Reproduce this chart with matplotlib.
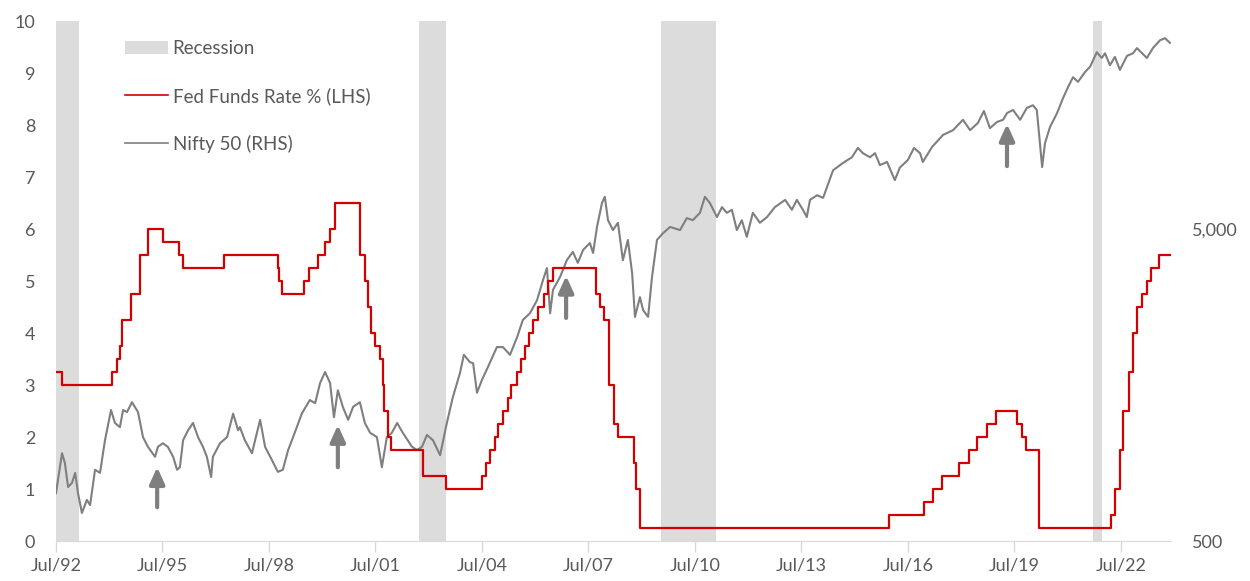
import matplotlib
matplotlib.use("Agg")
import matplotlib.pyplot as plt
from matplotlib.patches import Patch
from matplotlib.lines import Line2D
from matplotlib.ticker import FixedLocator, FuncFormatter

plt.rcParams['font.family'] = ['Lato', 'DejaVu Sans']

# Fed funds target (upper bound), value from each change date on (decimal years)
fed_t = [1992.50, 1992.68, 1994.09, 1994.22, 1994.29, 1994.37, 1994.62, 1994.87,
         1995.08, 1995.51, 1995.96, 1996.08, 1997.23, 1998.74, 1998.79, 1998.88,
         1999.49, 1999.64, 1999.87, 2000.09, 2000.22, 2000.37, 2001.05, 2001.21,
         2001.29, 2001.37, 2001.49, 2001.64, 2001.71, 2001.75, 2001.85, 2001.94,
         2002.85, 2003.48, 2004.49, 2004.61, 2004.72, 2004.86, 2004.95, 2005.09,
         2005.22, 2005.33, 2005.49, 2005.60, 2005.72, 2005.83, 2005.95, 2006.08,
         2006.24, 2006.36, 2006.49, 2007.71, 2007.83, 2007.94, 2008.07, 2008.21,
         2008.33, 2008.77, 2008.83, 2008.96, 2015.96, 2016.95, 2017.20, 2017.45,
         2017.95, 2018.22, 2018.45, 2018.74, 2018.97, 2019.58, 2019.72, 2019.83,
         2020.19, 2022.21, 2022.34, 2022.46, 2022.57, 2022.72, 2022.84, 2022.95,
         2023.09, 2023.22, 2023.34, 2023.57, 2023.91]
fed_rate = [3.25, 3.00, 3.25, 3.50, 3.75, 4.25, 4.75, 5.50,
            6.00, 5.75, 5.50, 5.25, 5.50, 5.25, 5.00, 4.75,
            5.00, 5.25, 5.50, 5.75, 6.00, 6.50, 5.50, 5.00,
            4.50, 4.00, 3.75, 3.50, 3.00, 2.50, 2.00, 1.75,
            1.25, 1.00, 1.25, 1.50, 1.75, 2.00, 2.25, 2.50,
            2.75, 3.00, 3.25, 3.50, 3.75, 4.00, 4.25, 4.50,
            4.75, 5.00, 5.25, 4.75, 4.50, 4.25, 3.00, 2.25,
            2.00, 1.50, 1.00, 0.25, 0.50, 0.75, 1.00, 1.25,
            1.50, 1.75, 2.00, 2.25, 2.50, 2.25, 2.00, 1.75,
            0.25, 0.50, 1.00, 1.75, 2.50, 3.25, 4.00, 4.50,
            4.75, 5.00, 5.25, 5.50, 5.50]

# Nifty 50 index level
nifty_t = [1992.50, 1992.67, 1992.75, 1992.84, 1992.95, 1993.04, 1993.12, 1993.23,
           1993.37, 1993.46, 1993.60, 1993.74, 1993.88, 1994.05, 1994.16, 1994.30,
           1994.39, 1994.50, 1994.64, 1994.81, 1994.95, 1995.09, 1995.29, 1995.37,
           1995.51, 1995.65, 1995.80, 1995.91, 1995.99, 1996.08, 1996.22, 1996.36,
           1996.50, 1996.64, 1996.75, 1996.87, 1996.92, 1997.12, 1997.32, 1997.49,
           1997.63, 1997.68, 1997.82, 1998.02, 1998.25, 1998.39, 1998.58, 1998.75,
           1998.89, 1999.04, 1999.18, 1999.43, 1999.65, 1999.80, 1999.94, 2000.08,
           2000.22, 2000.33, 2000.44, 2000.58, 2000.73, 2000.87, 2001.06, 2001.20,
           2001.35, 2001.54, 2001.68, 2001.82, 2001.96, 2002.11, 2002.27, 2002.53,
           2002.67, 2002.81, 2002.95, 2003.12, 2003.32, 2003.51, 2003.68, 2003.88,
           2003.99, 2004.16, 2004.25, 2004.36, 2004.50, 2004.67, 2004.92, 2005.09,
           2005.29, 2005.49, 2005.65, 2005.85, 2006.05, 2006.22, 2006.33, 2006.42,
           2006.50, 2006.70, 2006.89, 2007.06, 2007.20, 2007.35, 2007.54, 2007.63,
           2007.74, 2007.88, 2007.96, 2008.05, 2008.19, 2008.33, 2008.47, 2008.61,
           2008.73, 2008.81, 2008.95, 2009.04, 2009.18, 2009.29, 2009.43, 2009.60,
           2009.80, 2010.08, 2010.27, 2010.44, 2010.64, 2010.78, 2010.92, 2011.12,
           2011.26, 2011.40, 2011.54, 2011.68, 2011.82, 2011.96, 2012.13, 2012.33,
           2012.53, 2012.75, 2013.04, 2013.23, 2013.37, 2013.54, 2013.65, 2013.74,
           2013.94, 2014.11, 2014.22, 2014.39, 2014.67, 2014.92, 2015.09, 2015.23,
           2015.43, 2015.57, 2015.71, 2015.91, 2016.13, 2016.27, 2016.50, 2016.67,
           2016.84, 2016.92, 2017.18, 2017.49, 2017.77, 2018.05, 2018.25, 2018.47,
           2018.64, 2018.81, 2019.01, 2019.18, 2019.29, 2019.46, 2019.66, 2019.85,
           2020.02, 2020.13, 2020.28, 2020.36, 2020.50, 2020.70, 2020.87, 2021.01,
           2021.15, 2021.29, 2021.49, 2021.63, 2021.82, 2021.96, 2022.05, 2022.19,
           2022.33, 2022.47, 2022.67, 2022.84, 2022.95, 2023.23, 2023.40, 2023.60,
           2023.74, 2023.88]
nifty = [712, 956, 889, 745, 768, 827, 712, 615,
         677, 652, 846, 827, 1052, 1315, 1195, 1159,
         1315, 1295, 1393, 1295, 1077, 1002, 931, 1002,
         1029, 1002, 931, 846, 862, 1052, 1132, 1195,
         1077, 1002, 931, 802, 931, 1029, 1077, 1280,
         1132, 1159, 1052, 956, 1223, 1002, 910, 833,
         846, 979, 1077, 1285, 1415, 1383, 1606, 1740,
         1606, 1247, 1521, 1346, 1223, 1346, 1393, 1195,
         1111, 1077, 862, 1077, 1111, 1195, 1111, 1002,
         979, 1002, 1094, 1052, 942, 1195, 1447, 1727,
         1976, 1872, 1858, 1493, 1643, 1808, 2092, 2092,
         1976, 2251, 2554, 2685, 2955, 3433, 3749, 2685,
         3191, 3512, 3972, 4223, 3896, 4289, 4508, 4190,
         5077, 6058, 6344, 5337, 4962, 5236, 3972, 4613,
         3609, 2614, 3024, 2748, 2614, 3512, 4613, 4849,
         5077, 4962, 5420, 5337, 5635, 6344, 6058, 5462,
         5875, 5635, 5764, 4962, 5337, 4721, 5635, 5236,
         5462, 5875, 6200, 5764, 6200, 5764, 5462, 6200,
         6416, 6295, 6823, 7715, 8142, 8491, 9099, 8753,
         8491, 8753, 8016, 8203, 7173, 7865, 8331, 9099,
         8753, 8203, 9168, 10016, 10372, 11196, 10372, 10940,
         11947, 10527, 11022, 11196, 11764, 12041, 11196, 12227,
         12463, 12041, 7896, 9419, 10607, 11764, 13152, 14254,
         15333, 14815, 15937, 16557, 18437, 17669, 18293, 16749,
         17809, 16181, 17947, 18293, 19009, 17669, 19009, 20137,
         20448, 19760]

recession_start = [1992.50, 2002.73, 2009.54, 2021.71]
recession_end = [1993.15, 2003.49, 2011.09, 2021.96]

# grey arrows: x position, base and tip on the left axis
arrow_t = [1995.35, 2000.44, 2006.87, 2019.29]
arrow_base = [0.65, 1.42, 4.29, 7.21]
arrow_tip = [1.42, 2.23, 5.10, 8.02]

tick_years = list(range(1992, 2023, 3))

red = '#d40000'
grey = '#7f7f7f'
txt = '#595959'

fig = plt.figure(figsize=(12.5, 5.81), dpi=100)
ax2 = fig.add_axes([0.0448, 0.0688, 0.892, 0.895])
ax1 = ax2.twinx()
ax1.set_zorder(ax2.get_zorder() + 1)
ax1.patch.set_visible(False)

# back axis: recessions and Nifty (log scale)
for s, e in zip(recession_start, recession_end):
    ax2.axvspan(s, e, color='#dcdcdc', lw=0, zorder=0)
ax2.plot(nifty_t, nifty, color=grey, lw=1.5, zorder=2)
ax2.set_yscale('log')
ax2.set_ylim(500, 500 * 10 ** (10 / 6))
ax2.yaxis.tick_right()
ax2.yaxis.set_major_locator(FixedLocator([500, 5000]))
ax2.yaxis.set_minor_locator(FixedLocator([]))
ax2.yaxis.set_major_formatter(FuncFormatter(lambda v, p: f'{v:,.0f}'))

# front axis: fed funds and arrows
ax1.step(fed_t, fed_rate, where='post', color=red, lw=1.6)
ax1.set_ylim(0, 10)
ax1.yaxis.tick_left()
ax1.set_yticks(range(0, 11))
for t, b, tp in zip(arrow_t, arrow_base, arrow_tip):
    ax1.annotate('', xy=(t, tp), xytext=(t, b),
                 arrowprops=dict(arrowstyle='-|>,head_width=0.25,head_length=0.55',
                                 lw=3.0, color=grey, mutation_scale=18,
                                 shrinkA=0, shrinkB=0))

ax2.set_xlim(1992.5, 2023.91)
ax2.set_xticks([y + 0.5 for y in tick_years])
ax2.set_xticklabels([f'Jul/{y % 100:02d}' for y in tick_years])

for a in (ax1, ax2):
    for sp in a.spines.values():
        sp.set_visible(False)
ax2.spines['bottom'].set_visible(True)
ax2.spines['bottom'].set_color('#d9d9d9')
ax2.tick_params(axis='x', colors='#d9d9d9', length=8, width=1, labelcolor=txt,
                labelsize=13, pad=4)
ax2.tick_params(axis='y', length=0, labelcolor=txt, labelsize=13, pad=15)
ax1.tick_params(axis='y', length=0, labelcolor=txt, labelsize=13, pad=15)

handles = [Patch(facecolor='#dcdcdc', edgecolor='none'),
           Line2D([], [], color=red, lw=1.2),
           Line2D([], [], color=grey, lw=1.2)]
labels = ['Recession', 'Fed Funds Rate % (LHS)', 'Nifty 50 (RHS)']
ax1.legend(handles, labels, loc='upper left', bbox_to_anchor=(0.055, 0.978),
           frameon=False, fontsize=13.5, labelspacing=1.6, handlelength=2.3,
           handletextpad=0.25, borderaxespad=0, labelcolor=txt)

fig.savefig('out.png', dpi=100)
